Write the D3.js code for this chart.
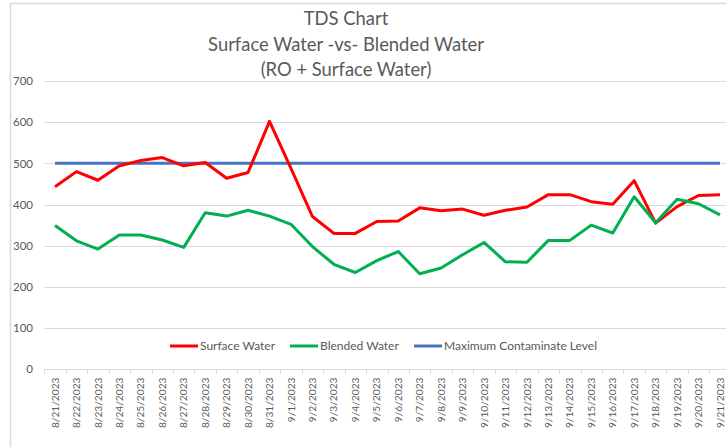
<!DOCTYPE html>
<html>
<head>
<meta charset="utf-8">
<script src="https://cdn.jsdelivr.net/npm/d3@7"></script>
<style>
  body { margin: 0; background: #fff; }
  svg { display: block; font-family: Lato, "Liberation Sans", sans-serif; }
</style>
</head>
<body>
<svg id="chart" width="726" height="447"></svg>
<script>
// readings, 8/21/2023 - 9/21/2023
const dates = ["8/21/2023","8/22/2023","8/23/2023","8/24/2023","8/25/2023","8/26/2023","8/27/2023","8/28/2023",
  "8/29/2023","8/30/2023","8/31/2023","9/1/2023","9/2/2023","9/3/2023","9/4/2023","9/5/2023","9/6/2023",
  "9/7/2023","9/8/2023","9/9/2023","9/10/2023","9/11/2023","9/12/2023","9/13/2023","9/14/2023","9/15/2023",
  "9/16/2023","9/17/2023","9/18/2023","9/19/2023","9/20/2023","9/21/2023"];
const surfaceWater = [443,480,459,494,507,514,494,502,464,478,602,488,371,330,330,359,360,392,385,389,374,386,394,424,424,407,401,458,355,395,422,424];
const blendedWater = [349,312,292,326,326,314,296,380,372,386,372,352,298,255,235,264,286,232,246,278,308,261,260,313,313,350,331,419,356,413,402,375];
const maxLevel = dates.map(() => 500);
const yTicks = [0,100,200,300,400,500,600,700];
const titleLines = ["TDS Chart", "Surface Water -vs- Blended Water", "(RO + Surface Water)"];

const series = [
  {name: "Surface Water", values: surfaceWater, color: "#ff0000"},
  {name: "Blended Water", values: blendedWater, color: "#00b050"},
  {name: "Maximum Contaminate Level", values: maxLevel, color: "#4472c4"}
];

const svg = d3.select("#chart");
const textColor = "#595959";
const gridColor = "#d9d9d9";

// chart frame (only top/left edge visible in the shot)
svg.append("path")
    .attr("d", "M10.5,447V3.5H726")
    .attr("fill", "none")
    .attr("stroke", gridColor)
    .attr("stroke-width", 1.5);

const x = d3.scaleBand()
    .domain(dates)
    .range([44.3, 730.7]);

const y = d3.scaleLinear()
    .domain([0, 700])
    .range([369.3, 81]);

// gridlines
svg.append("g")
  .selectAll("line")
  .data(yTicks.filter(d => d > 0))
  .enter().append("line")
    .attr("x1", 44.3)
    .attr("x2", 726)
    .attr("y1", d => Math.round(y(d)) + 0.5)
    .attr("y2", d => Math.round(y(d)) + 0.5)
    .attr("stroke", gridColor)
    .attr("stroke-width", 1);

// y axis labels
const yAxis = svg.append("g")
    .attr("transform", "translate(44,0)")
    .call(d3.axisLeft(y).tickValues(yTicks).tickSize(0).tickPadding(11));
yAxis.select(".domain").remove();
yAxis.selectAll("text")
    .attr("fill", textColor)
    .attr("font-size", "11.5px")
    .attr("font-family", "Lato, sans-serif");

// x axis
const xAxisY = Math.round(y(0)) + 0.5;
svg.append("line")
    .attr("x1", 44.3).attr("x2", 726)
    .attr("y1", xAxisY).attr("y2", xAxisY)
    .attr("stroke", gridColor);

svg.append("g")
  .selectAll("line")
  .data(dates)
  .enter().append("line")
    .attr("x1", d => Math.round(x(d)) + 0.5)
    .attr("x2", d => Math.round(x(d)) + 0.5)
    .attr("y1", xAxisY)
    .attr("y2", xAxisY + 4.5)
    .attr("stroke", gridColor);

svg.append("g")
  .selectAll("text")
  .data(dates)
  .enter().append("text")
    .attr("transform", d => "translate(" + (x(d) + x.bandwidth() / 2) + "," + (xAxisY + 8) + ") rotate(-90)")
    .attr("text-anchor", "end")
    .attr("dy", "0.35em")
    .attr("fill", textColor)
    .attr("font-size", "10.2px")
    .text(d => d);

// lines
const line = d3.line()
    .x((d, i) => x(dates[i]) + x.bandwidth() / 2)
    .y(d => y(d));

svg.append("g")
  .selectAll("path")
  .data([series[2], series[0], series[1]])
  .enter().append("path")
    .attr("d", d => line(d.values))
    .attr("fill", "none")
    .attr("stroke", d => d.color)
    .attr("stroke-width", 3)
    .attr("stroke-linejoin", "round");

// title
svg.append("g")
  .selectAll("text")
  .data(titleLines)
  .enter().append("text")
    .attr("x", 346)
    .attr("y", (d, i) => 25 + i * 25.5)
    .attr("text-anchor", "middle")
    .attr("fill", textColor)
    .attr("font-size", "18.4px")
    .text(d => d);

// legend
const legendX = [170, 290, 414];
const legend = svg.append("g")
  .selectAll("g")
  .data(series)
  .enter().append("g")
    .attr("transform", (d, i) => "translate(" + legendX[i] + ",346)");
legend.append("line")
    .attr("x1", 0).attr("x2", 28)
    .attr("stroke", d => d.color)
    .attr("stroke-width", 3);
legend.append("text")
    .attr("x", 30)
    .attr("dy", "0.35em")
    .attr("fill", textColor)
    .attr("font-size", "12px")
    .text(d => d.name);
</script>
</body>
</html>
